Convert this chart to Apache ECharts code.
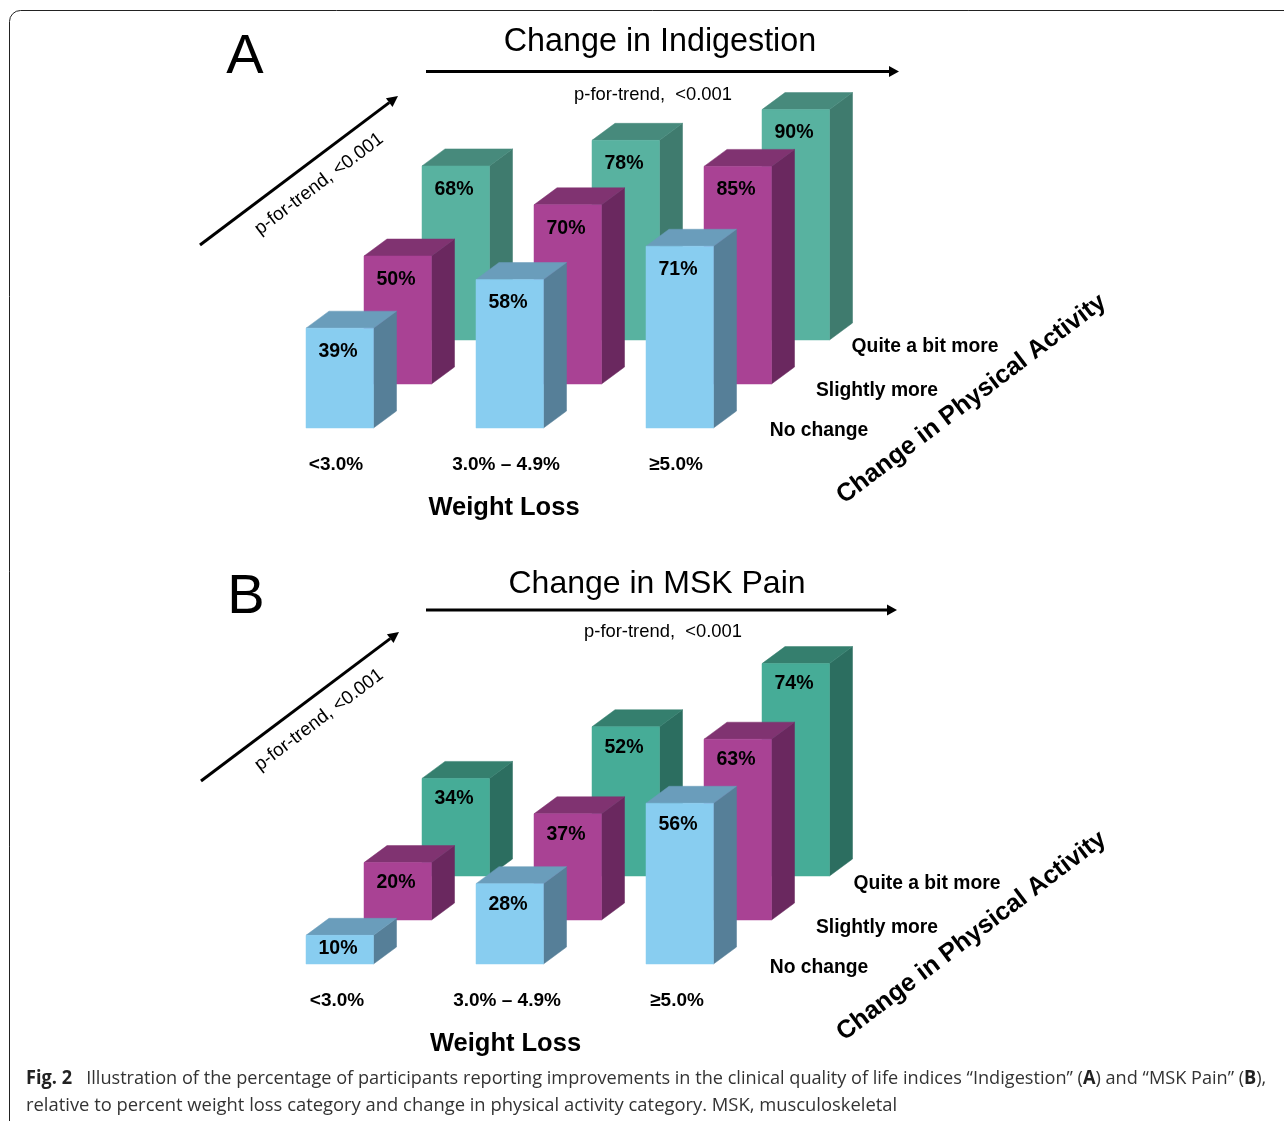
<!DOCTYPE html>
<html>
<head>
<meta charset="utf-8">
<title>Fig. 2</title>
<style>
    html, body { margin: 0; padding: 0; background: #fff; }
    #chart { width: 1284px; height: 1121px; }
</style>
<script src="https://cdn.jsdelivr.net/npm/echarts@6/dist/echarts.min.js"></script>
</head>
<body>
<div id="chart"></div>
<script>
// Chart data
const weightLoss = ['<3.0%', '3.0% – 4.9%', '≥5.0%'];
const activityLevels = ['No change', 'Slightly more', 'Quite a bit more'];

const indigestionNoChange = [39, 58, 71];
const indigestionSlightly = [50, 70, 85];
const indigestionQuite = [68, 78, 90];

const mskNoChange = [10, 28, 56];
const mskSlightly = [20, 37, 63];
const mskQuite = [34, 52, 74];

// Box geometry, in pixels
const BOX_WIDTH = 67.5;
const SIDE_DX = 23;
const SIDE_DY = 17;
const ROW_DX = 58;
const ROW_DY = 44;

const FONT = '"Liberation Sans", Arial, sans-serif';

const blue = { front: '#88cdf0', side: '#567f98', top: '#6a9dbb' };
const magenta = { front: '#a94294', side: '#6a285f', top: '#803371' };
const greenA = { front: '#58b2a0', side: '#3f7b6e', top: '#478a7c' };
const greenB = { front: '#46ac97', side: '#2c6e60', top: '#357f6e' };

// One custom series per physical activity row, drawn back to front
function boxSeries(gridIndex, row, values, colors, labelGap) {
    return {
        type: 'custom',
        xAxisIndex: gridIndex,
        yAxisIndex: gridIndex,
        clip: false,
        silent: true,
        data: values.map((v, i) => [i, v]),
        renderItem: (params, api) => {
            const base = api.coord([api.value(0), 0]);
            const peak = api.coord([api.value(0), api.value(1)]);
            const x0 = base[0] - 34 + row * ROW_DX;
            const x1 = x0 + BOX_WIDTH;
            const yb = base[1] - row * ROW_DY;
            const yt = peak[1] - row * ROW_DY;
            const height = yb - yt;
            const face = (points, fill) => ({
                type: 'polygon',
                shape: { points: points },
                style: { fill: fill, stroke: fill, lineWidth: 0.5 }
            });
            return {
                type: 'group',
                children: [
                    face([[x1, yb], [x1 + SIDE_DX, yb - SIDE_DY], [x1 + SIDE_DX, yt - SIDE_DY], [x1, yt]], colors.side),
                    face([[x0, yt], [x1, yt], [x1 + SIDE_DX, yt - SIDE_DY], [x0 + SIDE_DX, yt - SIDE_DY]], colors.top),
                    face([[x0, yb], [x1, yb], [x1, yt], [x0, yt]], colors.front),
                    {
                        type: 'text',
                        x: x0 + 32,
                        y: yt + Math.min(labelGap, height * 0.46),
                        style: {
                            text: api.value(1) + '%',
                            font: 'bold 19.5px ' + FONT,
                            fill: '#000',
                            align: 'center',
                            verticalAlign: 'middle'
                        }
                    }
                ]
            };
        }
    };
}

function label(text, x, y, size, opts) {
    const o = opts || {};
    return {
        type: 'text',
        x: x,
        y: y,
        rotation: o.rotation || 0,
        z: 10,
        style: {
            text: text,
            font: (o.bold ? 'bold ' : '') + size + 'px ' + FONT,
            fill: '#000',
            align: 'center',
            verticalAlign: 'middle'
        }
    };
}

function arrow(x0, y0, x1, y1, width, headLen, headHalf) {
    const len = Math.hypot(x1 - x0, y1 - y0);
    const ux = (x1 - x0) / len;
    const uy = (y1 - y0) / len;
    const bx = x1 - ux * headLen;
    const by = y1 - uy * headLen;
    return [
        {
            type: 'line',
            shape: { x1: x0, y1: y0, x2: bx, y2: by },
            style: { stroke: '#000', lineWidth: width }
        },
        {
            type: 'polygon',
            shape: { points: [[x1, y1], [bx - uy * headHalf, by + ux * headHalf], [bx + uy * headHalf, by - ux * headHalf]] },
            style: { fill: '#000' }
        }
    ];
}

// Caption lines are squeezed separately to the narrower face of the original
function captionLine(text, y, squeeze) {
    return {
        type: 'text',
        x: 26,
        y: y,
        scaleX: squeeze,
        z: 10,
        style: {
            text: text,
            font: '19px "Open Sans", sans-serif',
            fill: '#333',
            verticalAlign: 'middle',
            rich: {
                b: { font: 'bold 19px "Open Sans", sans-serif', fill: '#222' }
            }
        }
    };
}

const TILT = Math.atan2(149, 197);
const activityA = [[819, 430.5], [877, 390.5], [925, 346.5]];
const activityB = [[819, 967.5], [877, 927.5], [927, 883.5]];

const graphics = [
    // Figure frame, runs off the right and bottom of the page
    {
        type: 'rect',
        shape: { x: 9.5, y: 10.5, width: 1500, height: 1300, r: 11 },
        style: { fill: 'none', stroke: '#222', lineWidth: 1 }
    },
    label('A', 245, 58, 56),
    label('Change in Indigestion', 660, 42, 32.3),
    ...arrow(426, 71.5, 899, 71.5, 3, 10, 5.5),
    label('p-for-trend,  <0.001', 653, 94.5, 18.4),
    ...arrow(200, 245, 398, 96, 3, 11, 5.5),
    label('p-for-trend, <0.001', 319, 184, 18.8, { rotation: TILT }),
    label('Change in Physical Activity', 971.5, 399, 25.3, { bold: true, rotation: TILT }),

    label('B', 246, 598, 56),
    label('Change in MSK Pain', 657, 584, 32),
    ...arrow(426, 610, 897, 610, 3, 10, 5.5),
    label('p-for-trend,  <0.001', 663, 631.5, 18.4),
    ...arrow(201, 781, 399, 632, 3, 11, 5.5),
    label('p-for-trend, <0.001', 319, 720, 18.8, { rotation: TILT }),
    label('Change in Physical Activity', 971.5, 936, 25.3, { bold: true, rotation: TILT }),

    ...activityLevels.map((t, i) => label(t, activityA[i][0], activityA[i][1], 19.3, { bold: true })),
    ...activityLevels.map((t, i) => label(t, activityB[i][0], activityB[i][1], 19.3, { bold: true })),

    captionLine('{b|Fig. 2}   Illustration of the percentage of participants reporting improvements in the clinical quality of life indices “Indigestion” ({b|A}) and “MSK Pain” ({b|B}),', 1079, 0.955),
    captionLine('relative to percent weight loss category and change in physical activity category. MSK, musculoskeletal', 1106, 0.9675)
];

function xAxisFor(gridIndex, labelPad) {
    return {
        type: 'category',
        gridIndex: gridIndex,
        data: weightLoss,
        name: 'Weight Loss',
        nameLocation: 'middle',
        nameGap: 67,
        nameTextStyle: {
            fontWeight: 'bold',
            fontSize: 25.5,
            fontFamily: FONT,
            color: '#000',
            padding: [0, labelPad * 3, 0, 0]
        },
        axisLine: { show: false },
        axisTick: { show: false },
        splitLine: { show: false },
        axisLabel: {
            interval: 0,
            margin: 27,
            color: '#000',
            fontWeight: 'bold',
            fontSize: 19,
            fontFamily: FONT,
            padding: [0, labelPad * 2, 0, 0]
        }
    };
}

function yAxisFor(gridIndex) {
    return { type: 'value', gridIndex: gridIndex, min: 0, max: 100, show: false };
}

const option = {
    backgroundColor: '#fff',
    animation: false,
    grid: [
        { left: 255, width: 510, top: 172, height: 256 },
        { left: 255, width: 510, top: 677, height: 287 }
    ],
    xAxis: [xAxisFor(0, 4), xAxisFor(1, 3)],
    yAxis: [yAxisFor(0), yAxisFor(1)],
    series: [
        boxSeries(0, 2, indigestionQuite, greenA, 23.5),
        boxSeries(0, 1, indigestionSlightly, magenta, 23.5),
        boxSeries(0, 0, indigestionNoChange, blue, 23),
        boxSeries(1, 2, mskQuite, greenB, 20.5),
        boxSeries(1, 1, mskSlightly, magenta, 20.5),
        boxSeries(1, 0, mskNoChange, blue, 21)
    ],
    graphic: graphics
};

const chart = echarts.init(document.getElementById('chart'));
chart.setOption(option);
</script>
</body>
</html>
